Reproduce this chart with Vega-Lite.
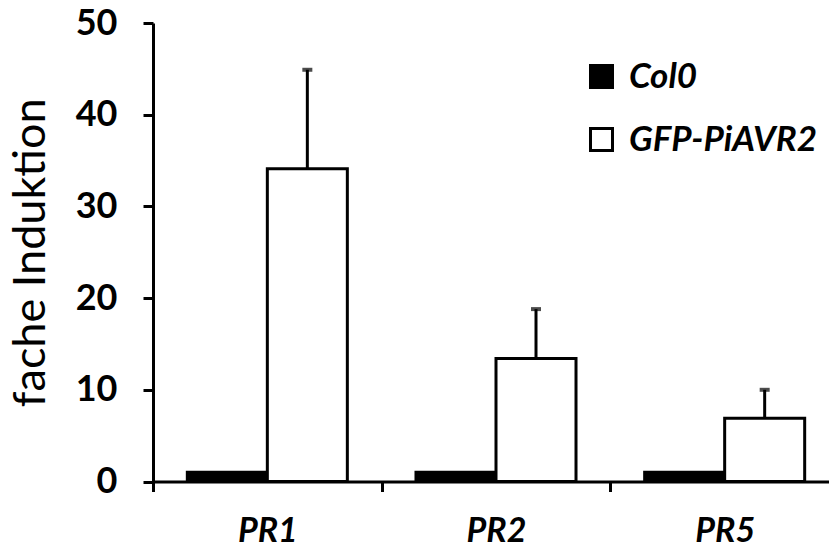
{
  "$schema": "https://vega.github.io/schema/vega-lite/v6.json",
  "width": 676,
  "height": 458.5,
  "autosize": {"type": "none"},
  "padding": {"left": 153, "top": 23, "right": 0, "bottom": 66.5},
  "background": "white",
  "config": {
    "view": {"stroke": null},
    "axis": {"grid": false, "domainColor": "black", "domainWidth": 3, "tickColor": "black", "tickWidth": 3, "tickSize": 10, "labelColor": "black", "titleColor": "black"}
  },
  "data": {
    "values": [
      {"gene": "PR1", "genotype": "Col0", "value": 1.0, "upper": null},
      {"gene": "PR1", "genotype": "GFP-PiAVR2", "value": 34.1, "upper": 44.9},
      {"gene": "PR2", "genotype": "Col0", "value": 1.0, "upper": null},
      {"gene": "PR2", "genotype": "GFP-PiAVR2", "value": 13.4, "upper": 18.8},
      {"gene": "PR5", "genotype": "Col0", "value": 1.0, "upper": null},
      {"gene": "PR5", "genotype": "GFP-PiAVR2", "value": 6.9, "upper": 10.0}
    ]
  },
  "encoding": {
    "x": {
      "field": "gene", "type": "nominal", "sort": null,
      "scale": {"paddingInner": 0, "paddingOuter": 0, "range": [0, 686]},
      "axis": {"title": null, "labelAngle": 0, "tickBand": "extent", "labelFont": "Lato", "labelFontWeight": "bold", "labelFontStyle": "italic", "labelFontSize": 34, "labelPadding": 23}
    },
    "xOffset": {"field": "genotype", "type": "nominal", "sort": ["Col0", "GFP-PiAVR2"], "scale": {"paddingInner": 0, "paddingOuter": 0.429}}
  },
  "layer": [
    {
      "mark": {"type": "bar", "stroke": "black", "strokeWidth": 3},
      "encoding": {
        "y": {
          "field": "value", "type": "quantitative",
          "scale": {"domain": [0, 50], "nice": false},
          "axis": {"title": "fache Induktion", "values": [0, 10, 20, 30, 40, 50], "labelFont": "Lato", "labelFontWeight": "bold", "labelFontSize": 36, "labelPadding": 26, "titleFont": "Lato", "titleFontWeight": "normal", "titleFontSize": 45, "titlePadding": 22}
        },
        "fill": {
          "field": "genotype", "type": "nominal",
          "scale": {"domain": ["Col0", "GFP-PiAVR2"], "range": ["black", "white"]},
          "legend": {"title": null, "orient": "none", "legendX": 431, "legendY": 36, "symbolType": "square", "symbolSize": 484, "symbolStrokeColor": "black", "symbolStrokeWidth": 3, "labelFont": "Lato", "labelFontWeight": "bold", "labelFontStyle": "italic", "labelFontSize": 35, "labelColor": "black", "labelOffset": 10, "labelLimit": 0, "rowPadding": 27}
        }
      }
    },
    {
      "transform": [{"filter": "datum.upper != null"}],
      "mark": {"type": "rule", "color": "black", "strokeWidth": 3},
      "encoding": {
        "y": {"field": "value", "type": "quantitative"},
        "y2": {"field": "upper"}
      }
    },
    {
      "transform": [{"filter": "datum.upper != null"}],
      "mark": {"type": "tick", "color": "black", "size": 10, "thickness": 4},
      "encoding": {
        "y": {"field": "upper", "type": "quantitative"}
      }
    }
  ]
}
